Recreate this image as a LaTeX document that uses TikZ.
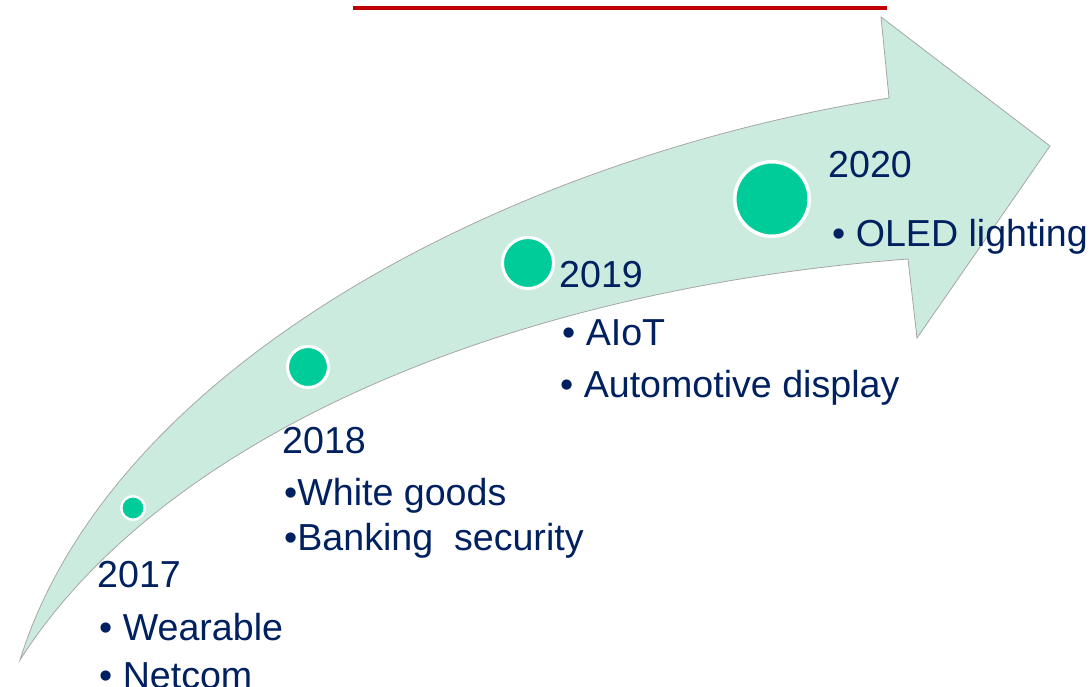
\documentclass[tikz,border=0pt]{standalone}
\usepackage{fontspec}
\setmainfont{Liberation Sans}
\definecolor{navy}{RGB}{0,32,96}
\definecolor{dotgreen}{RGB}{0,204,153}
\definecolor{mint}{RGB}{204,235,223}
\definecolor{edgegray}{RGB}{166,166,166}
\definecolor{topred}{RGB}{192,0,0}
\tikzset{
  txt/.style={anchor=base west, inner sep=0pt, text=navy, font=\fontsize{37.6}{44}\selectfont},
  dot/.style={circle, fill=dotgreen, draw=white, inner sep=0pt},
  band/.style={fill=mint, draw=edgegray, line width=0.8pt, line join=miter},
}
\begin{document}
\begin{tikzpicture}[x=1pt,y=-1pt]
\useasboundingbox (0,0) rectangle (1091,687);
% top red rule
\coordinate (ra) at (353,8);
\coordinate (rb) at (887,8);
\draw[topred, line width=4pt] (ra) -- (rb);
% curved arrow
\fill[band] (20,660) .. controls (110,370) and (500,160) .. (889,98)
  -- (881,17) -- (1050,146) -- (917,338) -- (908,259)
  .. controls (500,290) and (160,440) .. (20,660) -- cycle;
% milestone dots
\node[dot, line width=2.5pt, minimum size=23.5pt] (d17) at (133,508) {};
\node[dot, line width=3pt, minimum size=41pt] (d18) at (308,367) {};
\node[dot, line width=3pt, minimum size=51pt] (d19) at (528,263) {};
\node[dot, line width=3.5pt, minimum size=74.5pt] (d20) at (772,199) {};
% texts
\node[txt] (y17) at (97,587) {2017};
\node[txt] (a17) at (99,640) {• Wearable};
\node[txt] (b17) at (99,688) {• Netcom};
\node[txt] (y18) at (282,453) {2018};
\node[txt] (a18) at (284,505) {•White goods};
\node[txt] (b18) at (284,550) {•Banking\ \ security};
\node[txt] (y19) at (559,287) {2019};
\node[txt] (a19) at (562,345) {• AIoT};
\node[txt] (b19) at (560,397) {• Automotive display};
\node[txt] (y20) at (828,178) {2020};
\node[txt] (a20) at (832,246) {• OLED lighting};
\end{tikzpicture}
\end{document}
